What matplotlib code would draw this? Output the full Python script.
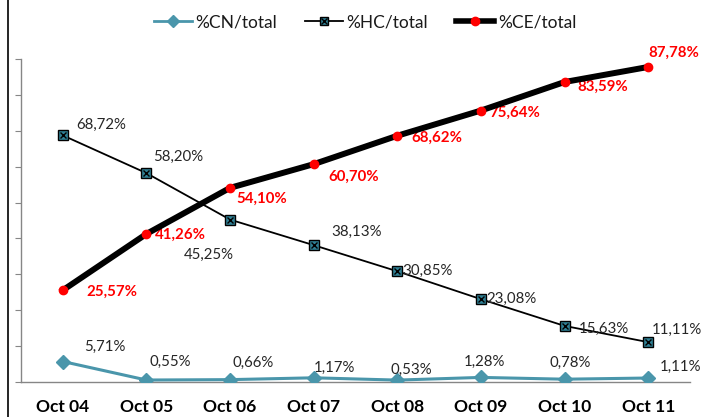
import matplotlib
matplotlib.use("Agg")
import matplotlib.pyplot as plt
from matplotlib.lines import Line2D

plt.rcParams['font.family'] = ['Lato', 'DejaVu Sans']

months = ["Oct 04", "Oct 05", "Oct 06", "Oct 07", "Oct 08", "Oct 09", "Oct 10", "Oct 11"]
cn = [5.71, 0.55, 0.66, 1.17, 0.53, 1.28, 0.78, 1.11]
hc = [68.72, 58.20, 45.25, 38.13, 30.85, 23.08, 15.63, 11.11]
ce = [25.57, 41.26, 54.10, 60.70, 68.62, 75.64, 83.59, 87.78]

# label offsets in pixels (dx right, dy down) for the left edge of each text
cn_off = [(21, -15), (3, -18), (2, -17), (0, -10), (-7, -10), (-17, -16), (-15, -16), (12, -11)]
hc_off = [(13, -10), (7, -16), (-46, 35), (18, -13), (5, 0), (5, 0), (14, 3), (4, -12)]
ce_off = [(24, 2), (8, 1), (6, 11), (15, 13), (14, 2), (8, 2), (13, 5), (0, -14)]

teal = "#4A96AB"
lab_col = "#262626"

fig = plt.figure(figsize=(7.05, 4.17), dpi=100)
ax = fig.add_axes([21 / 705, 35 / 417, 669 / 705, 323 / 417])
x = list(range(len(months)))

ax.plot(x, cn, color=teal, lw=2.2, marker="D", ms=7.5, mfc=teal, mec=teal, zorder=3)
ax.plot(x, hc, color="black", lw=1.3, marker="s", ms=7, mfc="#2f7f93", mec="black", zorder=3)
ax.plot(x, hc, ls="none", marker="x", ms=5, mec="black", mew=1, zorder=4)
ax.plot(x, ce, color="black", lw=4.3, marker="o", ms=6, mfc="red", mec="red", zorder=5)

def fmt(v):
    return f"{v:.2f}".replace(".", ",") + "%"

for i in x:
    ax.annotate(fmt(cn[i]), (i, cn[i]), xytext=(cn_off[i][0], -cn_off[i][1]),
                textcoords="offset pixels", ha="left", va="center", fontsize=10.8, color=lab_col)
    ax.annotate(fmt(hc[i]), (i, hc[i]), xytext=(hc_off[i][0], -hc_off[i][1]),
                textcoords="offset pixels", ha="left", va="center", fontsize=10.8, color=lab_col)
    ax.annotate(fmt(ce[i]), (i, ce[i]), xytext=(ce_off[i][0], -ce_off[i][1]),
                textcoords="offset pixels", ha="left", va="center", fontsize=10.8,
                color="red", fontweight="bold")

ax.set_xlim(-0.5, len(months) - 0.5)
ax.set_ylim(0, 90)
ax.set_yticks(range(0, 91, 10))
ax.set_yticklabels([])
ax.set_xticks(x)
ax.set_xticklabels(months, fontsize=12.5, fontweight="bold", color="black")
ax.tick_params(axis="x", length=0, pad=12)
ax.tick_params(axis="y", length=4, color="#868686", direction="out")
for s in ["top", "right"]:
    ax.spines[s].set_visible(False)
for s in ["left", "bottom"]:
    ax.spines[s].set_color("#868686")
    ax.spines[s].set_linewidth(1)

handles = [
    Line2D([], [], color=teal, lw=2, marker="D", ms=6, mfc=teal, mec=teal),
    (Line2D([], [], color="black", lw=1.3, marker="s", ms=6, mfc="#2f7f93", mec="black"),
     Line2D([], [], ls="none", marker="x", ms=4, mec="black")),
    Line2D([], [], color="black", lw=4, marker="o", ms=6, mfc="red", mec="red"),
]
fig.legend(handles, ["%CN/total", "%HC/total", "%CE/total"], loc="center",
           bbox_to_anchor=(365 / 705, 1 - 22 / 417), ncol=3, frameon=False,
           fontsize=12.5, handlelength=2.2, handletextpad=0.2, columnspacing=1.6,
           labelcolor="#1a1a1a")

fig.add_artist(Line2D([8 / 705, 8 / 705], [0, 1], color="black", lw=1.2, transform=fig.transFigure))

fig.savefig("out.png", dpi=100)
